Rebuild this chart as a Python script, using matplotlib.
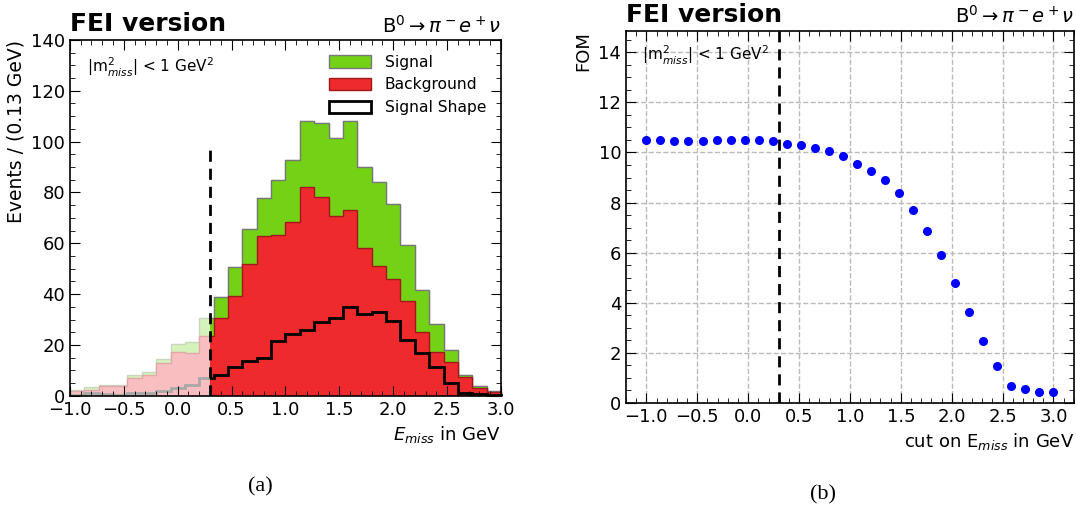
import numpy as np
import matplotlib
matplotlib.use("Agg")
import matplotlib.pyplot as plt  # noqa: E402
from matplotlib.patches import Patch, Rectangle  # noqa: E402
from matplotlib.ticker import MultipleLocator  # noqa: E402

# E_miss histogram, 30 bins from -1 to 3 GeV
bin_edges = np.linspace(-1.0, 3.0, 31)
background = [1.7, 2.4, 3.7, 3.7, 7.0, 8.1, 12.9, 17.2, 16.8, 23.7,
              30.6, 39.2, 51.9, 62.8, 63.2, 68.3, 82.3, 78.4, 70.7, 73.1,
              58.0, 51.0, 46.1, 37.2, 25.1, 17.1, 13.1, 7.2, 2.9, 1.3]
signal = [0.4, 0.9, 0.6, 0.5, 1.0, 1.2, 1.7, 3.2, 4.4, 6.9,
          8.3, 11.5, 13.8, 14.9, 21.6, 24.5, 25.9, 29.1, 30.6, 35.1,
          32.2, 33.1, 29.5, 22.1, 16.7, 11.2, 5.0, 1.1, 0.8, 0.4]

# figure of merit vs cut value
fom_cut = np.linspace(-1.0, 3.0, 30)
fom = [10.49, 10.49, 10.47, 10.47, 10.47, 10.49, 10.49, 10.51, 10.49, 10.45,
       10.35, 10.30, 10.16, 10.04, 9.85, 9.55, 9.24, 8.89, 8.37, 7.69,
       6.87, 5.91, 4.79, 3.64, 2.48, 1.46, 0.67, 0.54, 0.42, 0.45]

CUT = 0.3
# (fill, edge) colours for the kept region and the faded region below the cut
SOLID = {"sig": ("#73d216", "#777777"), "bkg": ("#ee2a2d", "#a01818"), "shape": "black"}
FADED = {"sig": ("#d6f2bb", "#c8d8c0"), "bkg": ("#f9bfc0", "#e0a8a8"), "shape": "#a8a8a8"}

plt.rcParams.update({
    "font.family": "DejaVu Sans",
    "font.size": 13,
    "xtick.direction": "in", "ytick.direction": "in",
    "xtick.top": True, "ytick.right": True,
    "xtick.minor.visible": True, "ytick.minor.visible": True,
    "xtick.major.size": 7, "ytick.major.size": 7,
    "xtick.minor.size": 3.5, "ytick.minor.size": 3.5,
    "axes.linewidth": 1.2,
})


def style_axes(ax):
    ax.tick_params(labelsize=13)
    ax.xaxis.set_major_locator(MultipleLocator(0.5))
    ax.xaxis.set_minor_locator(MultipleLocator(0.1))


def headers(ax):
    ax.text(0.0, 1.01, "FEI version", transform=ax.transAxes, fontsize=18,
            fontweight="bold", ha="left", va="bottom")
    ax.text(1.0, 1.01, r"B$^0\rightarrow\pi^-e^+\nu$", transform=ax.transAxes,
            fontsize=14, ha="right", va="bottom")


fig = plt.figure(figsize=(10.76, 5.12), dpi=100)
ax1 = fig.add_axes([0.065, 0.227, 0.4006, 0.695])
ax2 = fig.add_axes([0.5818, 0.213, 0.4162, 0.7265])

# ---- (a) stacked histogram ----
sig = np.array(signal)
bkg = np.array(background)
total = sig + bkg
keep = Rectangle((CUT, -10), 10, 1000, transform=ax1.transData)

for cols, clip in ((FADED, None), (SOLID, keep)):
    arts = [
        ax1.stairs(total, bin_edges, fill=True, color=cols["sig"][0]),
        ax1.stairs(total, bin_edges, color=cols["sig"][1], lw=1),
        ax1.stairs(bkg, bin_edges, fill=True, color=cols["bkg"][0]),
        ax1.stairs(bkg, bin_edges, color=cols["bkg"][1], lw=1),
        ax1.stairs(sig, bin_edges, color=cols["shape"], lw=2),
    ]
    if clip is not None:
        for a in arts:
            a.set_clip_path(clip)

ax1.vlines(CUT, 0, 98, colors="black", linestyles=(0, (4, 2.5)), lw=2)
ax1.set_xlim(-1.0, 3.0)
ax1.set_ylim(0, 140)
ax1.yaxis.set_major_locator(MultipleLocator(20))
ax1.yaxis.set_minor_locator(MultipleLocator(5))
style_axes(ax1)
ax1.set_ylabel("Events / (0.13 GeV)", loc="top", fontsize=13.5)
ax1.set_xlabel(r"$E_{miss}$ in GeV", loc="right", fontsize=13)
ax1.text(0.04, 0.955, r"|m$^2_{miss}$| < 1 GeV$^2$", transform=ax1.transAxes,
         fontsize=11, va="top")
handles = [Patch(facecolor=SOLID["sig"][0], edgecolor=SOLID["sig"][1]),
           Patch(facecolor=SOLID["bkg"][0], edgecolor=SOLID["bkg"][1]),
           Patch(facecolor="white", edgecolor="black", lw=2)]
ax1.legend(handles, ["Signal", "Background", "Signal Shape"], loc="upper right",
           frameon=False, fontsize=11.2, handlelength=2.7, handleheight=0.85,
           labelspacing=0.5, borderaxespad=0.55, handletextpad=0.85)
headers(ax1)

# ---- (b) FOM scan ----
ax2.plot(fom_cut, fom, "o", color="blue", ms=5.5)
ax2.axvline(CUT, color="black", ls=(0, (4, 2.5)), lw=2)
ax2.set_xlim(-1.2, 3.2)
ax2.set_ylim(0, 14.85)
ax2.yaxis.set_major_locator(MultipleLocator(2))
ax2.yaxis.set_minor_locator(MultipleLocator(0.5))
style_axes(ax2)
ax2.grid(True, which="major", ls="--", color="#bbbbbb", lw=1)
ax2.set_ylabel("FOM", loc="top", fontsize=13)
ax2.set_xlabel(r"cut on E$_{miss}$ in GeV", loc="right", fontsize=13)
ax2.text(0.035, 0.965, r"|m$^2_{miss}$| < 1 GeV$^2$", transform=ax2.transAxes,
         fontsize=11, va="top")
headers(ax2)

fig.text(0.2416, 0.04, "(a)", family="Liberation Serif", fontsize=16, ha="center")
fig.text(0.765, 0.025, "(b)", family="Liberation Serif", fontsize=16, ha="center")

fig.savefig("out.png", dpi=100)
